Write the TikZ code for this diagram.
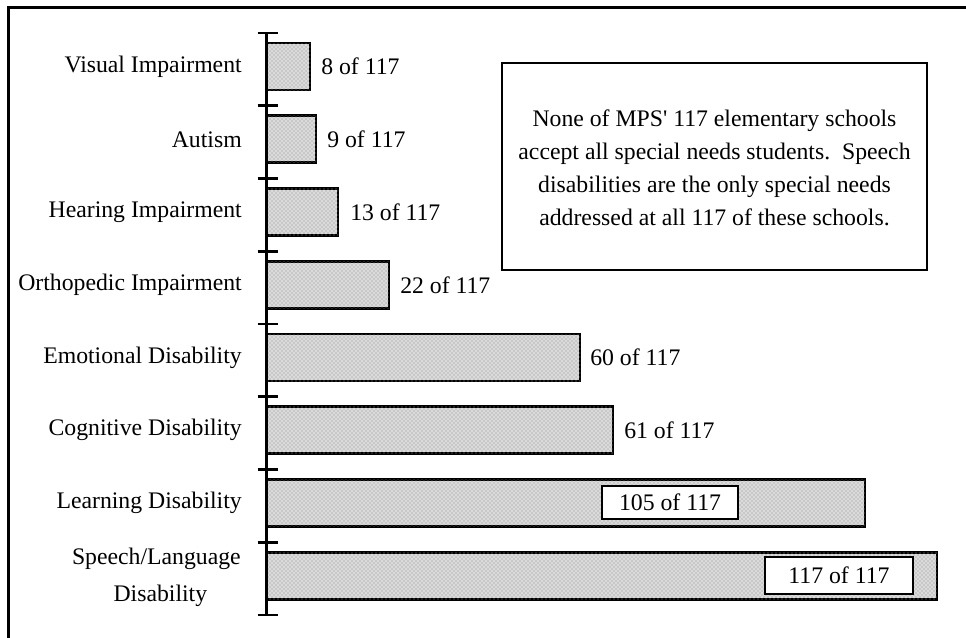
\documentclass[tikz,border=0pt]{standalone}
\usepackage{fontspec}
\setmainfont{Liberation Serif}
\usetikzlibrary{patterns}
\begin{document}
\begin{tikzpicture}[x=0.75pt,y=-0.75pt,
  txt/.style={inner sep=0pt, font=\fontsize{17.8}{24.75}\selectfont},
  cat/.style={txt, anchor=east},
  val/.style={txt, anchor=west},
  bar/.style={draw=black, line width=2.2pt, fill=black!14,
              postaction={pattern=crosshatch dots, pattern color=black!45}},
  axisline/.style={line width=2pt},
  valbox/.style={txt, draw=black, line width=1.9pt, fill=white},
  notebox/.style={draw=black, line width=1.6pt}]
\useasboundingbox (0,0) rectangle (966,637);

% outer frame (only the top and left edges fall inside the page)
\draw[line width=2.2pt] (8.5,640) -- (8.5,7.5) -- (970,7.5);

% bars: top edge, right edge
\foreach \t/\r in {43/310, 115.75/316, 188.5/338, 261.25/389,
                   334/580, 406.75/613, 479.5/865, 552.25/937}
  \draw[bar] (266.5,\t) rectangle (\r,\t+47);

% vertical axis with tick marks
\coordinate (axtop) at (266.5,33);
\coordinate (axbot) at (266.5,615);
\draw[axisline] (axtop) -- (axbot);
\foreach \k in {0,...,8}
  \draw[axisline] (257.5,33+72.75*\k) -- (277.5,33+72.75*\k);

% category labels
\node[cat] (l1) at (242,66.5)   {Visual Impairment};
\node[cat] (l2) at (242,139.25) {Autism};
\node[cat] (l3) at (242,212)    {Hearing Impairment};
\node[cat] (l4) at (242,284.75) {Orthopedic Impairment};
\node[cat] (l5) at (242,357.5)  {Emotional Disability};
\node[cat] (l6) at (242,430.25) {Cognitive Disability};
\node[cat] (l7) at (242,503)    {Learning Disability};
\node[txt, anchor=east, align=center, font=\fontsize{17.8}{27.5}\selectfont]
  (l8) at (241,577.5) {Speech/Language\\\hspace*{6pt}Disability};

% value labels
\node[val] (v1) at (321,66.5)   {8 of 117};
\node[val] (v2) at (327,139.25) {9 of 117};
\node[val] (v3) at (350,212)    {13 of 117};
\node[val] (v4) at (400,284.75) {22 of 117};
\node[val] (v5) at (590,357.5)  {60 of 117};
\node[val] (v6) at (624,430.25) {61 of 117};
\node[valbox, minimum width=102pt, minimum height=25pt] (v7) at (670,502.5) {105 of 117};
\node[valbox, minimum width=111pt, minimum height=27.5pt] (v8) at (839,575.5) {117 of 117};

% note box
\draw[notebox] (502,63) rectangle (927,270);
\node[txt, align=center] (note) at (714.5,168)
  {None of MPS\textquotesingle{} 117 elementary schools\\
   accept all special needs students.\ \ Speech\\
   disabilities are the only special needs\\
   addressed at all 117 of these schools.};
\end{tikzpicture}
\end{document}
